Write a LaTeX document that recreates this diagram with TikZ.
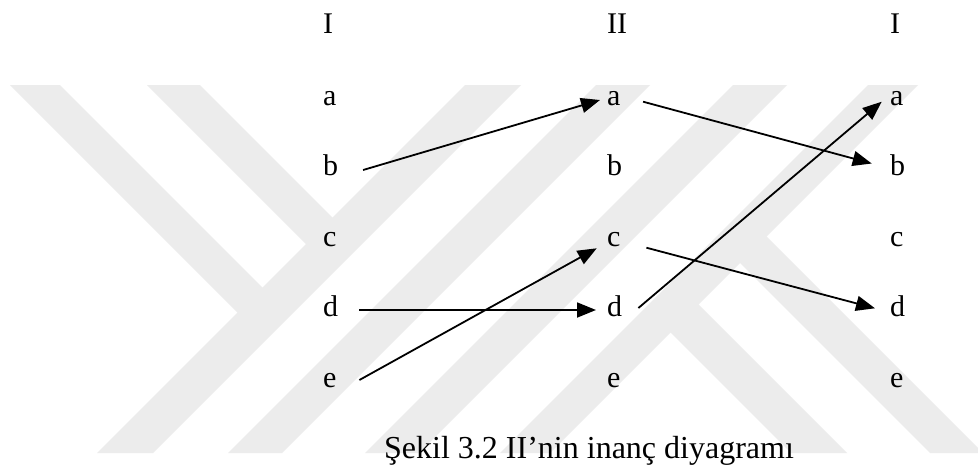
\documentclass[tikz,border=0pt]{standalone}
\usepackage{fontspec}
\setmainfont{Liberation Serif}
\usetikzlibrary{arrows.meta}
\definecolor{wm}{RGB}{236,236,236}
\tikzset{
  lbl/.style={anchor=base west, inner sep=0pt, font=\fontsize{30pt}{36pt}\selectfont},
  captxt/.style={anchor=base west, inner sep=0pt, font=\fontsize{32pt}{38pt}\selectfont},
  arr/.style={line width=1.8pt, -{Triangle[length=19pt,width=15pt]}},
  wmband/.style={fill=wm, draw=none},
}
\begin{document}
\begin{tikzpicture}[x=1pt,y=-1pt]
\useasboundingbox (0,0) rectangle (978,469);
\fill[white] (0,0) rectangle (978,469);
% watermark
\begin{scope}
\clip (0,85) rectangle (978,453);
\fill[wmband] (465,85) -- (521,85) -- (153,453) -- (97,453) -- cycle;
\fill[wmband] (596,85) -- (650,85) -- (282,453) -- (228,453) -- cycle;
\fill[wmband] (733,85) -- (787,85) -- (419,453) -- (365,453) -- cycle;
\fill[wmband] (868,85) -- (918,85) -- (550,453) -- (500,453) -- cycle;
\fill[wmband] (10,85) -- (60,85) -- (272.5,297.5) -- (247.5,322.5) -- cycle;
\fill[wmband] (147,85) -- (200,85) -- (342.5,227.5) -- (316,254) -- cycle;
\fill[wmband] (661.5,323.5) -- (689.5,295.5) -- (847,453) -- (791,453) -- cycle;
\fill[wmband] (731,254) -- (757.5,227.5) -- (983,453) -- (930,453) -- cycle;
\end{scope}
% headers
\node[lbl] (hL) at (323,33) {I};
\node[lbl] (hM) at (607,33) {II};
\node[lbl] (hR) at (890,33) {I};
% letters
\foreach \l [count=\i] in {a,b,c,d,e} {
  \node[lbl] (L\l) at (323,{105+70.5*(\i-1)}) {\l};
  \node[lbl] (M\l) at (607,{105+70.5*(\i-1)}) {\l};
  \node[lbl] (R\l) at (890,{105+70.5*(\i-1)}) {\l};
}
% arrows
\draw[arr] ([xshift=24.7pt,yshift=5.5pt]Lb.base east) -- ([xshift=-7pt,yshift=5pt]Ma.base west);
\draw[arr] ([xshift=22.4pt,yshift=3.3pt]Ma.base east) -- ([xshift=-18.3pt,yshift=12pt]Rb.base west);
\draw[arr] ([xshift=16pt,yshift=8.5pt]Md.base east) -- ([xshift=-8.3pt,yshift=3.3pt]Ra.base west);
\draw[arr] ([xshift=25.7pt,yshift=-1.7pt]Mc.base east) -- ([xshift=-15pt,yshift=8.2pt]Rd.base west);
\draw[arr] ([xshift=21pt,yshift=6.5pt]Ld.base east) -- ([xshift=-11pt,yshift=6.5pt]Md.base west);
\draw[arr] ([xshift=22.7pt,yshift=7pt]Le.base east) -- ([xshift=-10.3pt,yshift=-2.3pt]Mc.base west);
% caption
\node[captxt] (caption) at (384,458) {Şekil 3.2 II’nin inanç diyagramı};
\end{tikzpicture}
\end{document}
